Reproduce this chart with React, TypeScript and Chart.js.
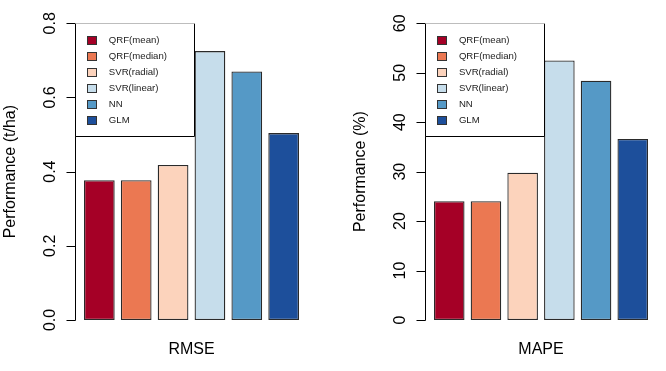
import React, { useEffect, useRef } from "react";
import { Chart, registerables } from "chart.js";

Chart.register(...registerables);

const models = ["QRF(mean)", "QRF(median)", "SVR(radial)", "SVR(linear)", "NN", "GLM"];
const barColors = ["#A50026", "#EB7852", "#FCD3BC", "#C6DDEB", "#5599C6", "#1D4F9B"];
const rmseValues = [0.377, 0.377, 0.418, 0.725, 0.67, 0.504];
const mapeValues = [24.0, 24.0, 29.8, 52.5, 48.4, 36.6];
const rmseTicks = [0, 0.2, 0.4, 0.6, 0.8];
const rmseTickLabels = ["0.0", "0.2", "0.4", "0.6", "0.8"];
const mapeTicks = [0, 10, 20, 30, 40, 50, 60];
const mapeTickLabels = ["0", "10", "20", "30", "40", "50", "60"];

const FONT = '"Liberation Sans", Arial, Helvetica, sans-serif';

type PanelProps = {
  values: number[];
  ticks: number[];
  tickLabels: string[];
  yTitle: string;
  xLabel: string;
  padLeft: number;
  padRight: number;
  offsetX: number;
};

function Panel(props: PanelProps) {
  const ref = useRef<HTMLCanvasElement | null>(null);
  useEffect(() => {
    const canvas = ref.current;
    if (!canvas) return;
    const { values, ticks, tickLabels, yTitle, xLabel, padLeft, padRight } = props;
    const rAxes = {
      id: "rAxes",
      afterDraw(chart: any) {
        const ctx = chart.ctx as CanvasRenderingContext2D;
        const { left, right } = chart.chartArea;
        const ys = chart.scales.y;
        const unit = (right - left) / 7.2;
        const axisX = left - 0.18 * unit;
        const ax = Math.round(axisX) + 0.5;
        const yBottom = ys.getPixelForValue(ticks[0]);
        const yTop = ys.getPixelForValue(ticks[ticks.length - 1]);
        ctx.save();
        ctx.strokeStyle = "#000";
        ctx.lineWidth = 1;
        // axis line
        ctx.beginPath();
        ctx.moveTo(ax, Math.round(yTop) + 0.5);
        ctx.lineTo(ax, Math.round(yBottom) + 0.5);
        ctx.stroke();
        // ticks + labels
        ctx.fillStyle = "#000";
        ctx.font = `16px ${FONT}`;
        ticks.forEach((t, i) => {
          const py = Math.round(ys.getPixelForValue(t)) + 0.5;
          ctx.beginPath();
          ctx.moveTo(ax - 9, py);
          ctx.lineTo(ax, py);
          ctx.stroke();
          ctx.save();
          ctx.translate(axisX - 20.5, ys.getPixelForValue(t));
          ctx.rotate(-Math.PI / 2);
          ctx.textAlign = "center";
          ctx.textBaseline = "alphabetic";
          ctx.fillText(tickLabels[i], 0, 0);
          ctx.restore();
        });
        // y title
        ctx.save();
        ctx.translate(axisX - 65, (yTop + yBottom) / 2);
        ctx.rotate(-Math.PI / 2);
        ctx.textAlign = "center";
        ctx.textBaseline = "middle";
        ctx.fillText(yTitle, 0, 0);
        ctx.restore();
        // x label
        ctx.textAlign = "center";
        ctx.textBaseline = "alphabetic";
        ctx.fillText(xLabel, (left + right) / 2, 354);
        // legend
        const lx0 = ax;
        const lx1 = Math.round(axisX + 119) + 0.5;
        const ly0 = Math.round(yTop) + 0.5;
        const ly1 = Math.round(yTop + 113) + 0.5;
        ctx.fillStyle = "#fff";
        ctx.fillRect(lx0, ly0, lx1 - lx0, ly1 - ly0);
        ctx.strokeStyle = "#000";
        ctx.beginPath();
        ctx.moveTo(lx0, ly0);
        ctx.lineTo(lx0, ly1);
        ctx.lineTo(lx1, ly1);
        ctx.lineTo(lx1, ly0);
        ctx.stroke();
        ctx.strokeStyle = "#bdbdbd";
        ctx.beginPath();
        ctx.moveTo(lx0, ly0);
        ctx.lineTo(lx1, ly0);
        ctx.stroke();
        ctx.font = `9.6px ${FONT}`;
        ctx.textAlign = "left";
        ctx.textBaseline = "middle";
        models.forEach((m, i) => {
          const cy = yTop + 16.7 + i * 16;
          const sx = Math.round(axisX + 11.5) + 0.5;
          const sy = Math.round(cy - 4) + 0.5;
          ctx.fillStyle = barColors[i];
          ctx.fillRect(sx, sy, 9, 8);
          ctx.strokeStyle = "#333";
          ctx.strokeRect(sx, sy, 9, 8);
          ctx.fillStyle = "#222";
          ctx.fillText(m, axisX + 33.5, cy + 0.5);
        });
        ctx.restore();
      },
    };
    const chart = new Chart(canvas, {
      type: "bar",
      data: {
        labels: models,
        datasets: [
          {
            data: values,
            backgroundColor: barColors,
            borderColor: "#2a2a2a",
            borderWidth: 1.3,
            borderSkipped: false,
            barPercentage: 1 / 1.2,
            categoryPercentage: 1,
          },
        ],
      },
      options: {
        responsive: false,
        animation: false,
        devicePixelRatio: 1,
        layout: { padding: { left: padLeft, right: padRight, top: 23.3, bottom: 51 } },
        plugins: { legend: { display: false }, tooltip: { enabled: false } },
        scales: {
          x: { display: false, offset: true },
          y: { display: false, min: ticks[0], max: ticks[ticks.length - 1] },
        },
      },
      plugins: [rAxes],
    } as any);
    return () => chart.destroy();
  }, []);
  return (
    <div style={{ position: "absolute", left: props.offsetX, top: 0, width: 333, height: 371 }}>
      <canvas ref={ref} width={333} height={371} style={{ display: "block", width: 333, height: 371 }} />
    </div>
  );
}

export default function App() {
  return (
    <div style={{ position: "fixed", left: 0, top: 0, width: 666, height: 371, background: "#fff" }}>
      <Panel
        values={rmseValues}
        ticks={rmseTicks}
        tickLabels={rmseTickLabels}
        yTitle="Performance (t/ha)"
        xLabel="RMSE"
        padLeft={80.9}
        padRight={30.9}
        offsetX={0}
      />
      <Panel
        values={mapeValues}
        ticks={mapeTicks}
        tickLabels={mapeTickLabels}
        yTitle="Performance (%)"
        xLabel="MAPE"
        padLeft={97.9}
        padRight={14.9}
        offsetX={333}
      />
    </div>
  );
}
